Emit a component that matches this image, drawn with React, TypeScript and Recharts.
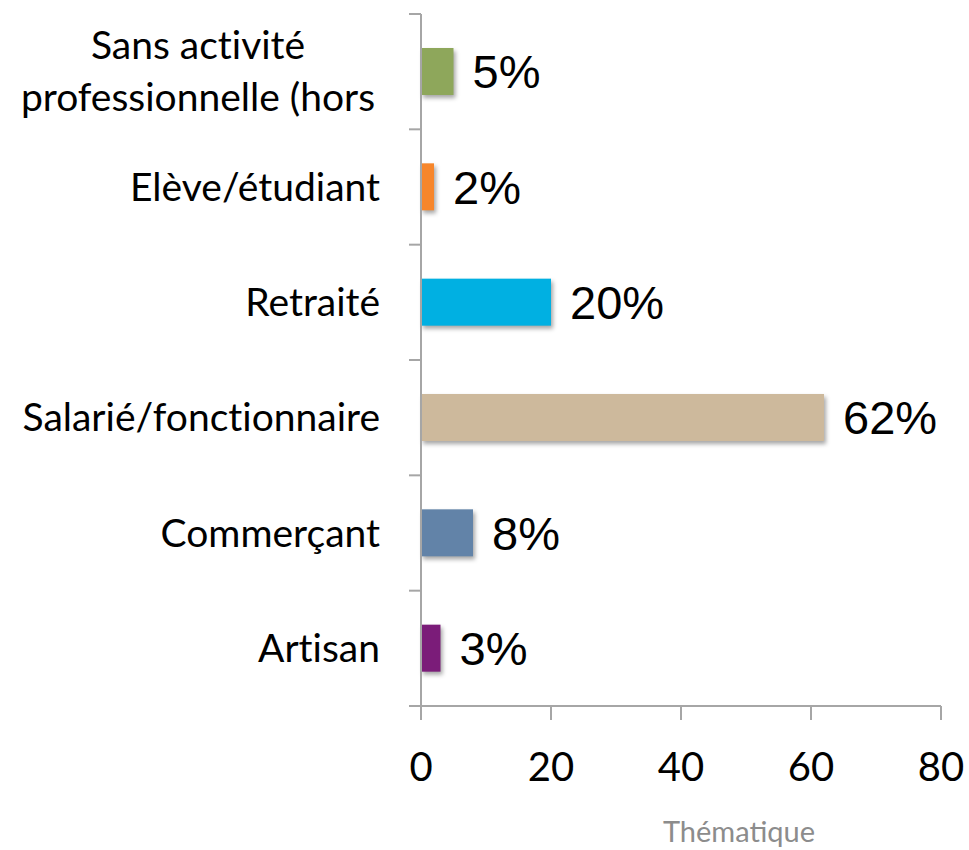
import { BarChart, Bar, XAxis, YAxis, Cell, LabelList } from 'recharts';

const categories = [
  'Sans activité\nprofessionnelle (hors',
  'Elève/étudiant',
  'Retraité',
  'Salarié/fonctionnaire',
  'Commerçant',
  'Artisan',
];
const values = [5, 2, 20, 62, 8, 3];
const xTicks = [0, 20, 40, 60, 80];

const COLORS = [
  '#8ea75b', // green
  '#f7862b', // orange
  '#00b0e2', // cyan
  '#cdb99c', // tan
  '#6283a8', // steel blue
  '#7b1c79', // purple
];

const AXIS = '#a6a6a6';
const W = 969;
const H = 850;
const TOP = 14;
const AXIS_W = 421;
const X_AXIS_H = 144;
const PLOT_H = H - TOP - X_AXIS_H;
const BAND = PLOT_H / categories.length;
const LABEL_FONT = { fontSize: 39, fontFamily: 'Lato', fontVariantLigatures: 'none' as const };

const data = categories.map((name, i) => ({ name, value: values[i] }));

function CategoryTick(props: any) {
  const { x, y, payload, index } = props;
  const lines: string[] = String(payload.value).split('\n');
  const axisX = x + 41;
  const top = y - BAND / 2;
  return (
    <g>
      <line x1={axisX - 12} x2={axisX} y1={top} y2={top} stroke={AXIS} strokeWidth={2} />
      {index === categories.length - 1 && (
        <line x1={axisX - 12} x2={axisX} y1={y + BAND / 2} y2={y + BAND / 2} stroke={AXIS} strokeWidth={2} />
      )}
      {lines.length === 1 ? (
        <text x={x} y={y} dy="0.35em" textAnchor="end" fill="#000" style={LABEL_FONT}>
          {lines[0]}
        </text>
      ) : (
        lines.map((line, i) => (
          <text
            key={i}
            x={x - 182}
            y={y + (i - (lines.length - 1) / 2) * 52}
            dy="0.35em"
            textAnchor="middle"
            fill="#000"
            style={LABEL_FONT}
          >
            {line}
          </text>
        ))
      )}
    </g>
  );
}

function ShadowBar(props: any) {
  const { x, y, width, height, fill } = props;
  return (
    <rect
      x={x}
      y={y}
      width={width}
      height={height}
      fill={fill}
      style={{ filter: 'drop-shadow(2px 3px 2px rgba(0,0,0,0.35))' }}
    />
  );
}

function AxisTitle(props: any) {
  const { viewBox } = props;
  return (
    <text
      x={viewBox.x + viewBox.width / 2 + 58}
      y={H - 8}
      textAnchor="middle"
      fontSize={29}
      fill="#8c8c8c"
      fontFamily="Lato"
    >
      Thématique
    </text>
  );
}

export default function App() {
  return (
    <div style={{ position: 'absolute', left: 0, top: 0, width: W, height: H, background: '#fff' }}>
      <BarChart
        width={W}
        height={H}
        data={data}
        layout="vertical"
        margin={{ top: TOP, right: 28, bottom: 0, left: 0 }}
      >
        <XAxis
          type="number"
          domain={[0, 80]}
          ticks={xTicks}
          interval={0}
          height={X_AXIS_H}
          stroke={AXIS}
          axisLine={{ stroke: AXIS, strokeWidth: 2 }}
          tickLine={{ stroke: AXIS, strokeWidth: 2 }}
          tickSize={14}
          tickMargin={33}
          tick={{ fill: '#000', fontSize: 40, fontFamily: 'Lato' }}
          label={<AxisTitle />}
        />
        <YAxis
          type="category"
          dataKey="name"
          width={AXIS_W}
          axisLine={{ stroke: AXIS, strokeWidth: 2 }}
          tickLine={false}
          tickSize={12}
          tickMargin={29}
          interval={0}
          tick={<CategoryTick />}
        />
        <Bar dataKey="value" barSize={47} isAnimationActive={false} shape={<ShadowBar />}>
          {data.map((d, i) => (
            <Cell key={d.name} fill={COLORS[i]} />
          ))}
          <LabelList
            dataKey="value"
            position="right"
            offset={19}
            formatter={(v: any) => `${v}%`}
            fill="#000"
            fontSize={47}
            fontFamily="Liberation Sans, Arial"
          />
        </Bar>
      </BarChart>
    </div>
  );
}
